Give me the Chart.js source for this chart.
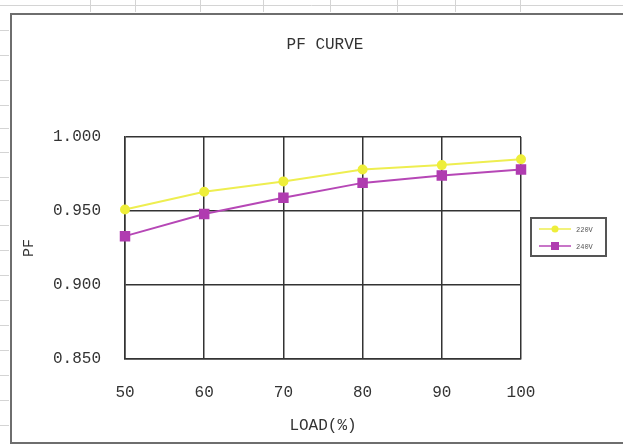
<!DOCTYPE html>
<html>
<head>
<meta charset="utf-8">
<script src="https://cdn.jsdelivr.net/npm/chart.js@4.4.1/dist/chart.umd.min.js"></script>
<style>
  html, body { margin: 0; padding: 0; background: #fff; }
  #wrap { position: relative; width: 623px; height: 445px; }
</style>
</head>
<body>
<div id="wrap"><canvas id="pfChart" width="623" height="445"></canvas></div>
<script>
// ---- data ----
const loadLabels = ['50', '60', '70', '80', '90', '100'];
const pf220 = [0.951, 0.963, 0.970, 0.978, 0.981, 0.985];
const pf240 = [0.933, 0.948, 0.959, 0.969, 0.974, 0.978];
const seriesNames = ['220V', '240V'];
const chartTitle = 'PF CURVE';

const FONT = "'Liberation Mono', 'DejaVu Sans Mono', monospace";

// sheet background, chart frame, title and boxed legend
const excelLook = {
    id: 'excelLook',
    beforeDraw(chart) {
        const ctx = chart.ctx;
        ctx.save();
        ctx.fillStyle = '#fff';
        ctx.fillRect(0, 0, chart.width, chart.height);
        // faint spreadsheet cells behind the chart
        ctx.strokeStyle = '#d4d4d4';
        ctx.lineWidth = 1;
        ctx.beginPath();
        ctx.moveTo(0, 5.5); ctx.lineTo(chart.width, 5.5);
        [90, 135, 200, 263, 330, 397, 455, 520].forEach(x => {
            ctx.moveTo(x + 0.5, 0); ctx.lineTo(x + 0.5, 12);
        });
        [30, 55, 80, 105, 128, 152, 177, 200, 225, 250, 275, 300, 325, 350, 375, 400, 425].forEach(y => {
            ctx.moveTo(0, y + 0.5); ctx.lineTo(9, y + 0.5);
        });
        ctx.stroke();
        // chart object frame
        ctx.strokeStyle = '#6e6e6e';
        ctx.lineWidth = 2;
        ctx.strokeRect(11, 14, chart.width - 10, chart.height - 16);
        ctx.restore();
    },
    afterDraw(chart) {
        const ctx = chart.ctx;
        const area = chart.chartArea;
        ctx.save();
        ctx.fillStyle = '#333';
        ctx.font = '16px ' + FONT;
        ctx.textAlign = 'center';
        ctx.textBaseline = 'middle';
        ctx.fillText(chartTitle, (area.left + area.right) / 2 + 2, 45);

        // legend box
        const lx = 531, ly = 218, lw = 75, lh = 38;
        ctx.strokeStyle = '#555';
        ctx.lineWidth = 2;
        ctx.strokeRect(lx, ly, lw, lh);
        ctx.font = '7px ' + FONT;
        ctx.textAlign = 'left';
        chart.data.datasets.forEach((ds, i) => {
            const y = ly + 11 + i * 17;
            ctx.strokeStyle = ds.borderColor;
            ctx.lineWidth = 1.5;
            ctx.beginPath();
            ctx.moveTo(lx + 8, y); ctx.lineTo(lx + 40, y);
            ctx.stroke();
            ctx.fillStyle = ds.pointBackgroundColor;
            if (ds.pointStyle === 'rect') {
                ctx.fillRect(lx + 20, y - 4, 8, 8);
            } else {
                ctx.beginPath();
                ctx.arc(lx + 24, y, 3.5, 0, Math.PI * 2);
                ctx.fill();
            }
            ctx.fillStyle = '#555';
            ctx.fillText(ds.label, lx + 45, y + 1);
        });
        ctx.restore();
    },
};

new Chart(document.getElementById('pfChart').getContext('2d'), {
    type: 'line',
    data: {
        labels: loadLabels,
        datasets: [
            {
                label: seriesNames[0],
                data: pf220,
                borderColor: '#eeee50',
                backgroundColor: '#eeee50',
                pointBackgroundColor: '#eeee3a',
                pointBorderColor: '#eeee3a',
                pointStyle: 'circle',
                pointRadius: 4,
                borderWidth: 2,
                tension: 0,
            },
            {
                label: seriesNames[1],
                data: pf240,
                borderColor: '#b647b6',
                backgroundColor: '#b647b6',
                pointBackgroundColor: '#b03cb0',
                pointBorderColor: '#b03cb0',
                pointStyle: 'rect',
                pointRadius: 6,
                borderWidth: 2,
                tension: 0,
            },
        ],
    },
    options: {
        responsive: false,
        animation: false,
        layout: { padding: { left: 12, right: 102, top: 137, bottom: 0 } },
        plugins: {
            legend: { display: false },
            title: { display: false },
            tooltip: { enabled: false },
        },
        scales: {
            x: {
                offset: false,
                grid: { color: '#333', lineWidth: 1.5, drawTicks: false },
                border: { color: '#333', width: 1.5 },
                ticks: { color: '#333', font: { family: FONT, size: 16 }, padding: 24, maxRotation: 0 },
                title: {
                    display: true, text: 'LOAD(%)', color: '#333',
                    font: { family: FONT, size: 16 }, padding: { top: 0, bottom: 10 },
                },
                afterFit(scale) { scale.height = 445 - 359; },
            },
            y: {
                min: 0.85,
                max: 1.0,
                grid: { color: '#333', lineWidth: 1.5, drawTicks: false },
                border: { color: '#333', width: 1.5 },
                ticks: {
                    stepSize: 0.05, color: '#333', padding: 24,
                    font: { family: FONT, size: 16 },
                    callback: v => v.toFixed(3),
                },
                title: {
                    display: true, text: 'PF', color: '#333',
                    font: { family: FONT, size: 15 }, padding: { top: 8, bottom: 0 },
                },
                afterFit(scale) { scale.width = 125 - 12; },
            },
        },
    },
    plugins: [excelLook],
});
</script>
</body>
</html>
